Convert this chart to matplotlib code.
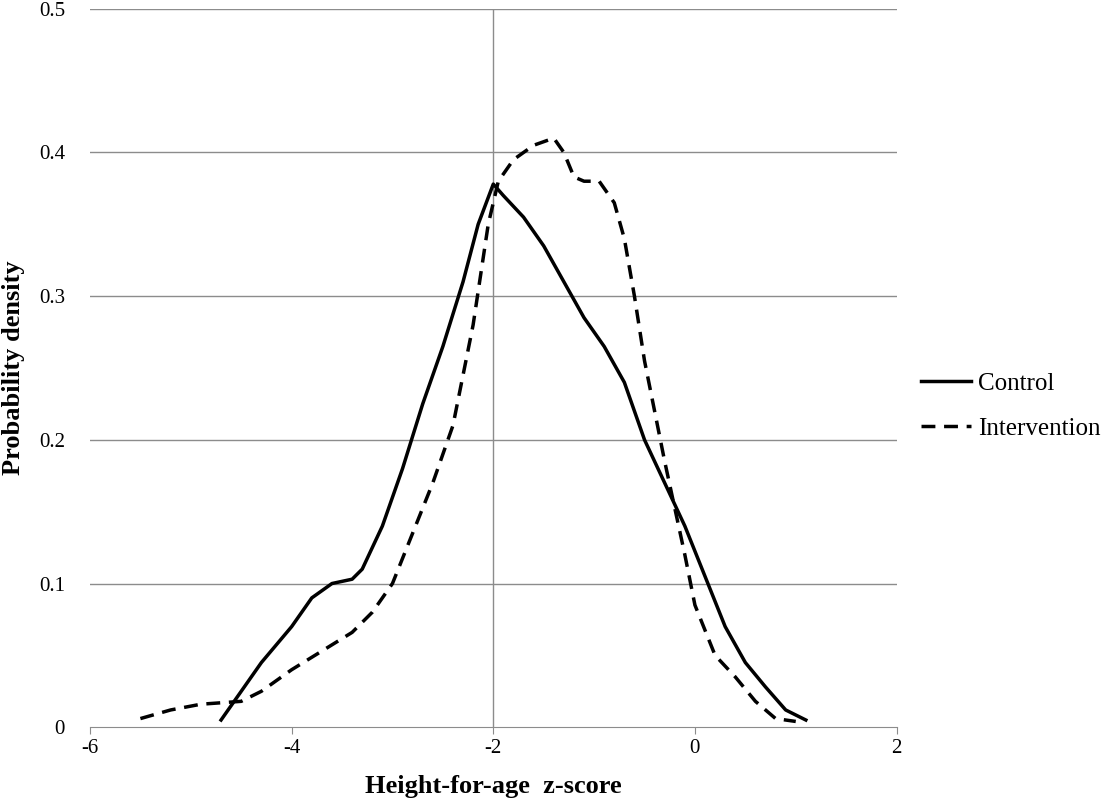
import matplotlib
matplotlib.use("Agg")
import matplotlib.pyplot as plt

ctrl_x = [-4.7,-4.5,-4.3,-4.0,-3.8,-3.6,-3.4,-3.3,-3.1,-2.9,-2.7,-2.5,-2.3,-2.15,-2.0,-1.9,-1.7,-1.5,-1.3,-1.1,-0.9,-0.7,-0.5,-0.3,-0.1,0.1,0.3,0.5,0.7,0.9,1.1]
ctrl_y = [0.005,0.025,0.045,0.07,0.09,0.1,0.103,0.11,0.14,0.18,0.225,0.265,0.31,0.35,0.378,0.37,0.355,0.335,0.31,0.285,0.265,0.24,0.2,0.17,0.14,0.105,0.07,0.045,0.028,0.012,0.005]
int_x = [-5.5,-5.2,-4.9,-4.5,-4.3,-4.0,-3.7,-3.4,-3.2,-3.0,-2.8,-2.6,-2.4,-2.2,-2.05,-1.95,-1.8,-1.6,-1.4,-1.3,-1.2,-1.1,-0.95,-0.8,-0.7,-0.6,-0.5,-0.4,-0.3,-0.1,0.0,0.2,0.4,0.6,0.8,1.0]
int_y = [0.006,0.012,0.016,0.018,0.025,0.04,0.053,0.066,0.08,0.1,0.135,0.17,0.21,0.28,0.35,0.38,0.395,0.405,0.41,0.4,0.383,0.38,0.38,0.365,0.34,0.3,0.255,0.22,0.185,0.12,0.085,0.05,0.035,0.018,0.006,0.004]
xticks = [-6,-4,-2,0,2]
yticks = [0,0.1,0.2,0.3,0.4,0.5]

plt.rcParams['font.family'] = ['Liberation Serif', 'DejaVu Serif']
fig = plt.figure(figsize=(11.11, 8), dpi=100)
ax = fig.add_axes([0.081, 0.091, 0.726, 0.898])
for y in yticks[1:]:
    ax.axhline(y, color='#8c8c8c', lw=1, zorder=0)
ax.axvline(-2, color='#8c8c8c', lw=1, zorder=0)
ax.plot(ctrl_x, ctrl_y, color='black', lw=2.5, label='Control')
ax.plot(int_x, int_y, color='black', lw=2.5, ls=(0, (4, 2.5)), label='Intervention')
ax.set_xlim(-6, 2); ax.set_ylim(0, 0.5)
ax.set_xticks(xticks); ax.set_xticklabels([str(t) for t in xticks])
ax.set_yticks(yticks); ax.set_yticklabels(['0','0.1','0.2','0.3','0.4','0.5'])
for s in ['top','right','left']:
    ax.spines[s].set_visible(False)
ax.spines['bottom'].set_color('#8c8c8c')
ax.tick_params(axis='y', length=0, labelsize=15, pad=18)
ax.tick_params(axis='x', direction='out', length=5, color='#8c8c8c', labelsize=15)
ax.set_xlabel('Height-for-age  z-score', fontsize=19, fontweight='bold', labelpad=12)
ax.set_ylabel('Probability density', fontsize=19, fontweight='bold', labelpad=10)
ax.legend(loc='center left', bbox_to_anchor=(1.03, 0.447), frameon=False, fontsize=18,
          handlelength=2.0, handletextpad=0.3, borderpad=0, borderaxespad=0, labelspacing=0.9)
fig.savefig('out.png')
